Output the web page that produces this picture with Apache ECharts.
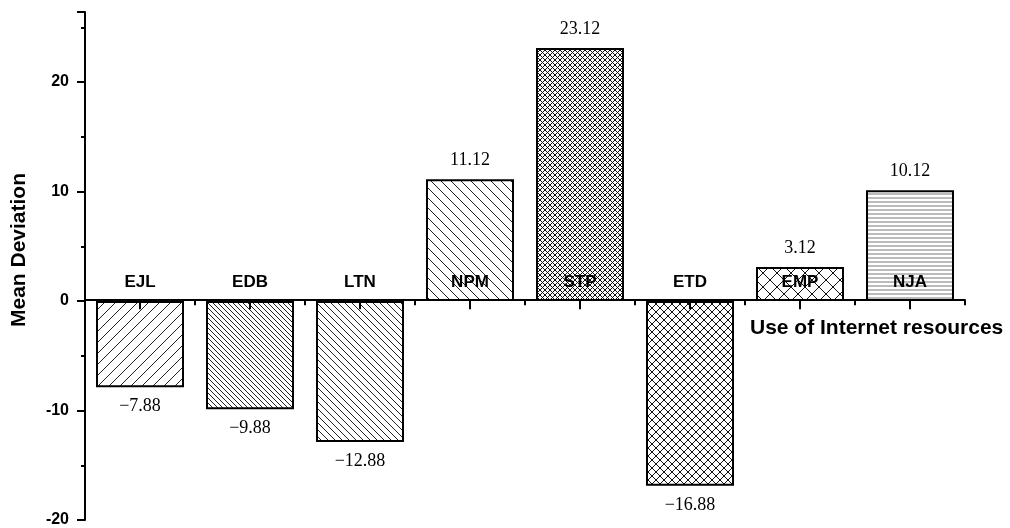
<!DOCTYPE html>
<html>
<head>
<meta charset="utf-8">
<script src="https://cdn.jsdelivr.net/npm/echarts@6/dist/echarts.min.js"></script>
<style>
  html, body { margin: 0; padding: 0; background: #fff; }
  #chart { width: 1010px; height: 528px; }
</style>
</head>
<body>
<div id="chart"></div>
<script>
// data
var categories = ['EJL', 'EDB', 'LTN', 'NPM', 'STP', 'ETD', 'EMP', 'NJA'];
var meanDeviation = [-7.88, -9.88, -12.88, 11.12, 23.12, -16.88, 3.12, 10.12];
var yTicks = [-20, -10, 0, 10, 20];
var yMax = 26.4;

// hatch tiles for the bars
function hatch(kind, step, color, lw) {
    var c = document.createElement('canvas');
    c.width = step; c.height = step;
    var ctx = c.getContext('2d');
    ctx.fillStyle = '#fff';
    ctx.fillRect(0, 0, step, step);
    ctx.strokeStyle = color;
    ctx.lineWidth = lw;
    ctx.beginPath();
    for (var k = -1; k <= 1; k++) {
        var o = k * step;
        if (kind == 'fwd' || kind == 'cross') {
            ctx.moveTo(o - 1, step + 1);
            ctx.lineTo(o + step + 1, -1);
        }
        if (kind == 'back' || kind == 'cross') {
            ctx.moveTo(o - 1, -1);
            ctx.lineTo(o + step + 1, step + 1);
        }
    }
    if (kind == 'horiz') {
        ctx.moveTo(0, step / 2);
        ctx.lineTo(step, step / 2);
    }
    ctx.stroke();
    return { image: c, repeat: 'repeat' };
}

var fills = [
    hatch('fwd', 11, '#222', 1),
    hatch('back', 5, '#222', 1),
    hatch('back', 7, '#222', 1),
    hatch('back', 10, '#222', 1),
    hatch('cross', 5, '#111', 1),
    hatch('cross', 8, '#111', 1),
    hatch('cross', 14, '#111', 1),
    hatch('horiz', 4, '#777', 1)
];

var barData = [];
for (var i = 0; i < meanDeviation.length; i++) {
    barData.push({
        value: meanDeviation[i],
        itemStyle: { color: fills[i] },
        label: { position: meanDeviation[i] < 0 ? 'bottom' : 'top' }
    });
}

// grid geometry; x axis is lifted from the grid bottom up to the zero line
var gridTop = 12, gridBottom = 6, chartH = 528;
var plotH = chartH - gridTop - gridBottom;
var zeroLift = -plotH * (0 - yTicks[0]) / (yMax - yTicks[0]);

var myChart = echarts.init(document.getElementById('chart'));
var option = {
    backgroundColor: '#fff',
    animation: false,
    grid: { left: 85, right: 45, top: gridTop, bottom: gridBottom, containLabel: false },
    xAxis: [{
        type: 'category',
        data: categories,
        offset: zeroLift,
        z: 10,
        name: 'Use of Internet resources',
        nameLocation: 'end',
        nameGap: -215,
        nameTextStyle: {
            fontFamily: 'Arial, Liberation Sans, sans-serif',
            fontWeight: 'bold', fontSize: 21, color: '#000',
            align: 'left', verticalAlign: 'top', padding: [18, 0, 0, 0]
        },
        axisLine: { onZero: false, lineStyle: { color: '#000', width: 2 } },
        axisTick: { show: true, alignWithLabel: true, length: 9, lineStyle: { color: '#000', width: 2 } },
        axisLabel: {
            inside: true, margin: 9,
            fontFamily: 'Arial, Liberation Sans, sans-serif',
            fontWeight: 'bold', fontSize: 17, color: '#000'
        },
        splitLine: { show: false }
    }, {
        type: 'category',
        data: categories,
        position: 'bottom',
        offset: zeroLift,
        z: 10,
        axisLine: { show: false, onZero: false },
        axisTick: { show: true, alignWithLabel: false, length: 5, lineStyle: { color: '#000', width: 2 } },
        axisLabel: { show: false },
        splitLine: { show: false }
    }],
    yAxis: {
        type: 'value',
        min: yTicks[0],
        max: yMax,
        interval: 10,
        name: 'Mean Deviation',
        nameLocation: 'middle',
        nameGap: 55,
        nameTextStyle: {
            fontFamily: 'Arial, Liberation Sans, sans-serif',
            fontWeight: 'bold', fontSize: 21, color: '#000',
            padding: [0, 0, 0, 32]
        },
        axisLine: { show: true, lineStyle: { color: '#000', width: 2 } },
        axisTick: { show: true, length: 8, lineStyle: { color: '#000', width: 2 } },
        minorTick: { show: true, splitNumber: 2, length: 4, lineStyle: { color: '#000', width: 2 } },
        axisLabel: {
            margin: 16, showMaxLabel: false,
            fontFamily: 'Arial, Liberation Sans, sans-serif',
            fontWeight: 'bold', fontSize: 16, color: '#000'
        },
        splitLine: { show: false },
        minorSplitLine: { show: false }
    },
    series: [{
        type: 'bar',
        data: barData,
        barCategoryGap: '20%',
        itemStyle: { borderColor: '#000', borderWidth: 2 },
        label: {
            show: true,
            distance: 10,
            fontFamily: 'Times New Roman, Liberation Serif, serif',
            fontSize: 18, color: '#000',
            formatter: function (p) {
                var s = Math.abs(p.value).toFixed(2);
                return p.value < 0 ? '\u2212' + s : s;
            }
        }
    }]
};
myChart.setOption(option);
</script>
</body>
</html>
